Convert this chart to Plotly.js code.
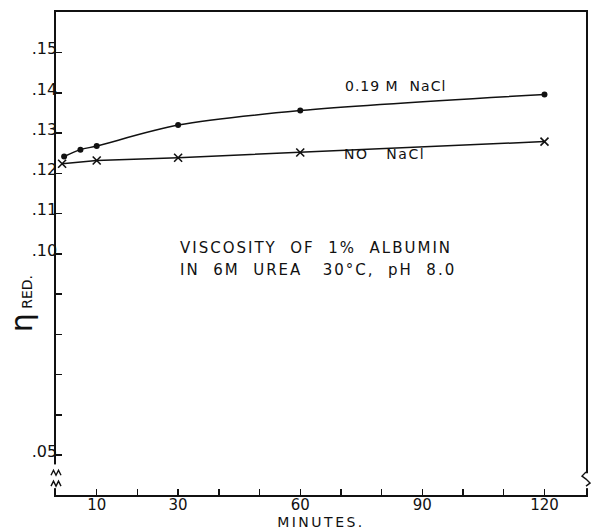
<!DOCTYPE html>
<html>
<head>
<meta charset="utf-8">
<script src="https://cdn.plot.ly/plotly-3.0.1.min.js"></script>
<style>html,body{margin:0;padding:0;background:#fff;}#chart{width:591px;height:530px;}</style>
</head>
<body>
<div id="chart"></div>
<script>
// Data
const minutesNaCl = [2, 6, 10, 30, 60, 120];
const viscNaCl    = [0.1242, 0.1259, 0.1268, 0.1320, 0.1356, 0.1396];
const minutesNoNaCl = [1.5, 10, 30, 60, 120];
const viscNoNaCl    = [0.1224, 0.1232, 0.1239, 0.1252, 0.1279];

const xTickVals = [10, 20, 30, 40, 50, 60, 70, 80, 90, 100, 110, 120];
const xTickText = ["10", "", "30", "", "", "60", "", "", "90", "", "", "120"];
const yTickVals = [0.05, 0.06, 0.07, 0.08, 0.09, 0.10, 0.11, 0.12, 0.13, 0.14, 0.15];
const yTickText = [".05", "", "", "", "", ".10", ".11", ".12", ".13", ".14", ".15"];

const FONT = "DejaVu Sans, sans-serif";
const INK = "#111";
const LS = (px, s) => "<span style='letter-spacing:" + px + "px'>" + s + "</span>";

const traces = [
  {
    x: minutesNaCl, y: viscNaCl, mode: "lines+markers", name: "0.19 M NaCl",
    line: {color: INK, width: 1.5, shape: "spline", smoothing: 0.9},
    marker: {symbol: "circle", size: 6, color: INK}
  },
  {
    x: minutesNoNaCl, y: viscNoNaCl, mode: "lines+markers", name: "NO NaCl",
    line: {color: INK, width: 1.5},
    marker: {symbol: "x-thin", size: 8, color: INK, line: {color: INK, width: 1.6}}
  }
];

function zig(xa, ya, path){
  return {type: "path", layer: "above", xref: "paper", yref: "y",
          xsizemode: "pixel", ysizemode: "pixel", xanchor: xa, yanchor: ya,
          path: path, line: {color: INK, width: 1.4}};
}

const layout = {
  width: 591, height: 530,
  margin: {l: 56, r: 5, t: 12, b: 35},
  paper_bgcolor: "#fff", plot_bgcolor: "#fff",
  showlegend: false,
  font: {family: FONT, color: INK},
  xaxis: {
    range: [0, 130.2], tickvals: xTickVals, ticktext: xTickText,
    ticks: "inside", ticklen: 6, tickwidth: 1.4, tickcolor: INK,
    showline: true, linecolor: INK, linewidth: 1.6, mirror: true,
    showgrid: false, zeroline: false,
    tickfont: {size: 15, family: FONT, color: INK},
    ticklabelstandoff: -5,
    title: {text: LS(2.5, "MINUTES."), font: {size: 14, family: FONT, color: INK}, standoff: 2}
  },
  yaxis: {
    range: [0.0401, 0.1601], tickvals: yTickVals, ticktext: yTickText,
    ticks: "inside", ticklen: 6, tickwidth: 1.4, tickcolor: INK,
    showline: true, linecolor: INK, linewidth: 1.6, mirror: true,
    showgrid: false, zeroline: false,
    tickfont: {size: 16, family: FONT, color: INK},
    ticklabelshift: -4, ticklabelstandoff: -6
  },
  annotations: [
    {xref: "x", yref: "y", x: 83.3, y: 0.1418, text: LS(1, "0.19 M  NaCl"), showarrow: false,
     font: {size: 14, family: FONT, color: INK}},
    {xref: "x", yref: "y", x: 80.8, y: 0.1247, text: LS(1.5, "NO   NaCl"), showarrow: false,
     font: {size: 14, family: FONT, color: INK}},
    {xref: "x", yref: "y", x: 30, y: 0.1014, xanchor: "left", text: LS(2, "VISCOSITY  OF  1%  ALBUMIN"), showarrow: false,
     font: {size: 15, family: FONT, color: INK}},
    {xref: "x", yref: "y", x: 30, y: 0.0959, xanchor: "left", text: LS(2, "IN  6M  UREA   30°C,  pH  8.0"), showarrow: false,
     font: {size: 15, family: FONT, color: INK}},
    {xref: "paper", yref: "paper", x: -0.066, y: 0.395, xanchor: "center", yanchor: "middle",
     text: "<span style='font-size:30px'>η</span> RED.", textangle: -90, showarrow: false,
     font: {size: 14, family: FONT, color: INK}}
  ],
  shapes: [
    // left axis break
    {type: "line", layer: "above", xref: "paper", yref: "y", x0: 0, x1: 0, y0: 0.0418, y1: 0.0477,
     line: {color: "#fff", width: 4}},
    zig(0, 0.0455, "M-5,-2 L-2.5,3 L0,-2 L2.5,3 L5,-2"),
    zig(0, 0.0428, "M-5,-2 L-2.5,3 L0,-2 L2.5,3 L5,-2"),
    // right axis break
    {type: "line", layer: "above", xref: "paper", yref: "y", x0: 1, x1: 1, y0: 0.0418, y1: 0.0455,
     line: {color: "#fff", width: 4}},
    zig(1, 0.0448, "M0,4 L-4,0 L0,-3 L4,-7 L0,-10")
  ]
};

Plotly.newPlot("chart", traces, layout, {displayModeBar: false, staticPlot: true});
</script>
</body>
</html>
